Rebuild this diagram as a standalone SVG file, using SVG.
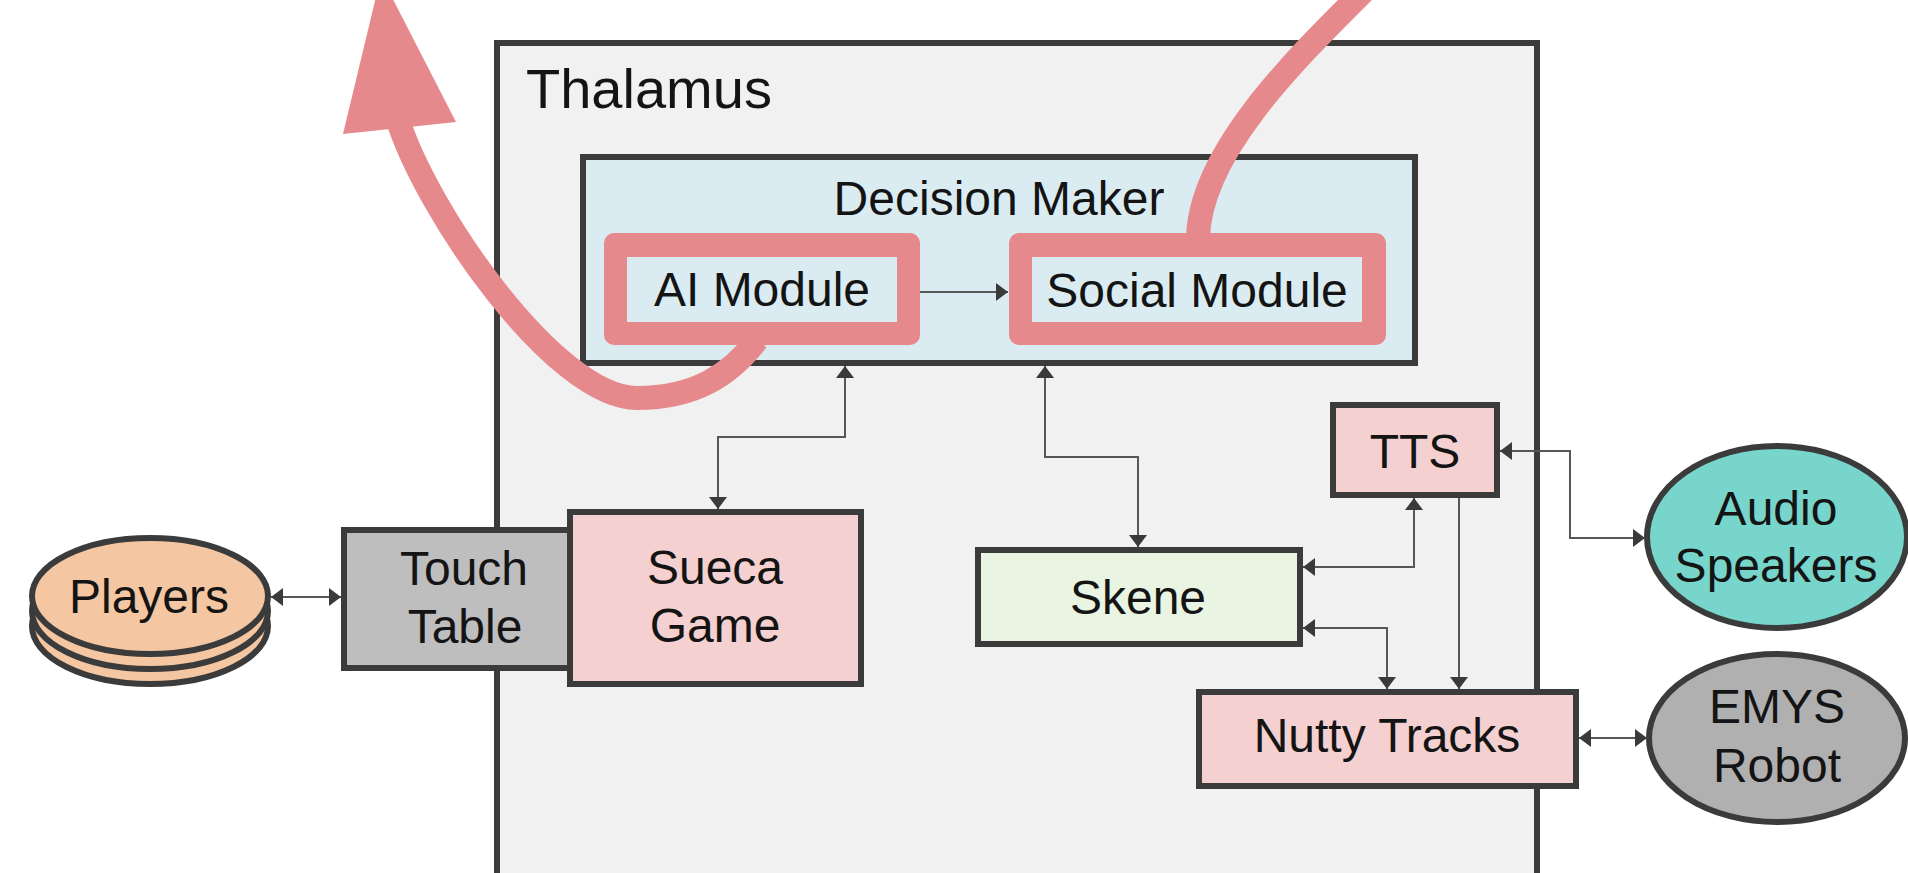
<svg xmlns="http://www.w3.org/2000/svg" width="1908" height="873" viewBox="0 0 1908 873">
  <style>
    .box { stroke: #3b3b3b; stroke-width: 6; }
    .lbl { font-family: "Liberation Sans", Arial, sans-serif; font-size: 48px; fill: #141414; text-anchor: middle; }
    .wire { fill: none; stroke: #575757; stroke-width: 2; }
    .hl { fill: none; stroke: #e6898d; stroke-width: 24; stroke-linecap: butt; }
  </style>
  <defs>
    <marker id="tip" viewBox="0 0 12 18" refX="12" refY="9" markerWidth="12" markerHeight="18" markerUnits="userSpaceOnUse" orient="auto-start-reverse">
      <path d="M0,0 L12,9 L0,18 z" fill="#3a3a3a"/>
    </marker>
  </defs>

  <rect width="1908" height="873" fill="#ffffff"/>

  <!-- container -->
  <g id="thalamus">
    <rect class="box" x="497" y="43" width="1040" height="900" fill="#f1f1f1"/>
    <text x="526" y="108" font-family="Liberation Sans, Arial, sans-serif" font-size="56" fill="#141414">Thalamus</text>
  </g>

  <g id="decision-maker">
    <rect class="box" x="583" y="157" width="832" height="206" fill="#daecf2"/>
    <text class="lbl" x="999" y="215">Decision Maker</text>
  </g>

  <g id="ai-module">
    <rect x="604" y="233" width="316" height="112" rx="10" fill="#e6898d"/>
    <rect x="627" y="257" width="270" height="65" fill="#daecf2"/>
    <text class="lbl" x="762" y="306">AI Module</text>
  </g>

  <g id="social-module">
    <rect x="1009" y="233" width="377" height="112" rx="10" fill="#e6898d"/>
    <rect x="1032" y="257" width="330" height="65" fill="#daecf2"/>
    <text class="lbl" x="1197" y="307">Social Module</text>
  </g>

  <g id="players">
    <ellipse class="box" cx="150" cy="626" rx="118" ry="58" fill="#f4c6a1" stroke-width="5"/>
    <ellipse class="box" cx="150" cy="611" rx="118" ry="58" fill="#f4c6a1" stroke-width="5"/>
    <ellipse class="box" cx="150" cy="596" rx="118" ry="58" fill="#f4c6a1" stroke-width="5"/>
    <text class="lbl" x="149" y="613">Players</text>
  </g>

  <g id="touch-table">
    <rect class="box" x="344" y="530" width="226" height="138" fill="#bebebe"/>
    <text class="lbl" x="464" y="585" fill="#262626">Touch</text>
    <text class="lbl" x="465" y="643" fill="#262626">Table</text>
  </g>

  <g id="sueca-game">
    <rect class="box" x="570" y="512" width="291" height="172" fill="#f4d0d0"/>
    <text class="lbl" x="715" y="584">Sueca</text>
    <text class="lbl" x="715" y="642">Game</text>
  </g>

  <g id="skene">
    <rect class="box" x="978" y="550" width="322" height="94" fill="#e9f5e2"/>
    <text class="lbl" x="1138" y="614">Skene</text>
  </g>

  <g id="tts">
    <rect class="box" x="1333" y="405" width="164" height="90" fill="#f4d0d0"/>
    <text class="lbl" x="1415" y="468">TTS</text>
  </g>

  <g id="nutty-tracks">
    <rect class="box" x="1199" y="692" width="377" height="94" fill="#f4d0d0"/>
    <text class="lbl" x="1387" y="752">Nutty Tracks</text>
  </g>

  <g id="audio-speakers">
    <ellipse class="box" cx="1777" cy="537" rx="130" ry="91" fill="#77d5cc" stroke-width="5"/>
    <text class="lbl" x="1776" y="525" fill="#173835">Audio</text>
    <text class="lbl" x="1776" y="582" fill="#173835">Speakers</text>
  </g>

  <g id="emys-robot">
    <ellipse class="box" cx="1777" cy="738" rx="128" ry="84" fill="#b0b0b0" stroke-width="5"/>
    <text class="lbl" x="1777" y="723" fill="#262626">EMYS</text>
    <text class="lbl" x="1777" y="782" fill="#262626">Robot</text>
  </g>

  <!-- connectors -->
  <g id="connectors">
    <path class="wire" d="M920,292 H1008" marker-end="url(#tip)"/>
    <path class="wire" d="M845,366 V437 H718 V509" marker-start="url(#tip)" marker-end="url(#tip)"/>
    <path class="wire" d="M1045,366 V457 H1138 V547" marker-start="url(#tip)" marker-end="url(#tip)"/>
    <path class="wire" d="M1414,498 V567 H1303" marker-start="url(#tip)" marker-end="url(#tip)"/>
    <path class="wire" d="M1303,628 H1387 V689" marker-start="url(#tip)" marker-end="url(#tip)"/>
    <path class="wire" d="M1459,498 V689" marker-end="url(#tip)"/>
    <path class="wire" d="M1500,451 H1570 V538 H1645" marker-start="url(#tip)" marker-end="url(#tip)"/>
    <path class="wire" d="M1579,738 H1647" marker-start="url(#tip)" marker-end="url(#tip)"/>
    <path class="wire" d="M271,597 H341" marker-start="url(#tip)" marker-end="url(#tip)"/>
  </g>

  <!-- highlight strokes -->
  <g id="highlights">
    <path class="hl" d="M757,340 C730,375 695,398 637,398 C555,398 425,210 397,117"/>
    <polygon points="343,134 456,122 381,-24" fill="#e6898d"/>
    <path class="hl" d="M1198,240 C1198,150 1305,50 1375,-20"/>
  </g>
</svg>
